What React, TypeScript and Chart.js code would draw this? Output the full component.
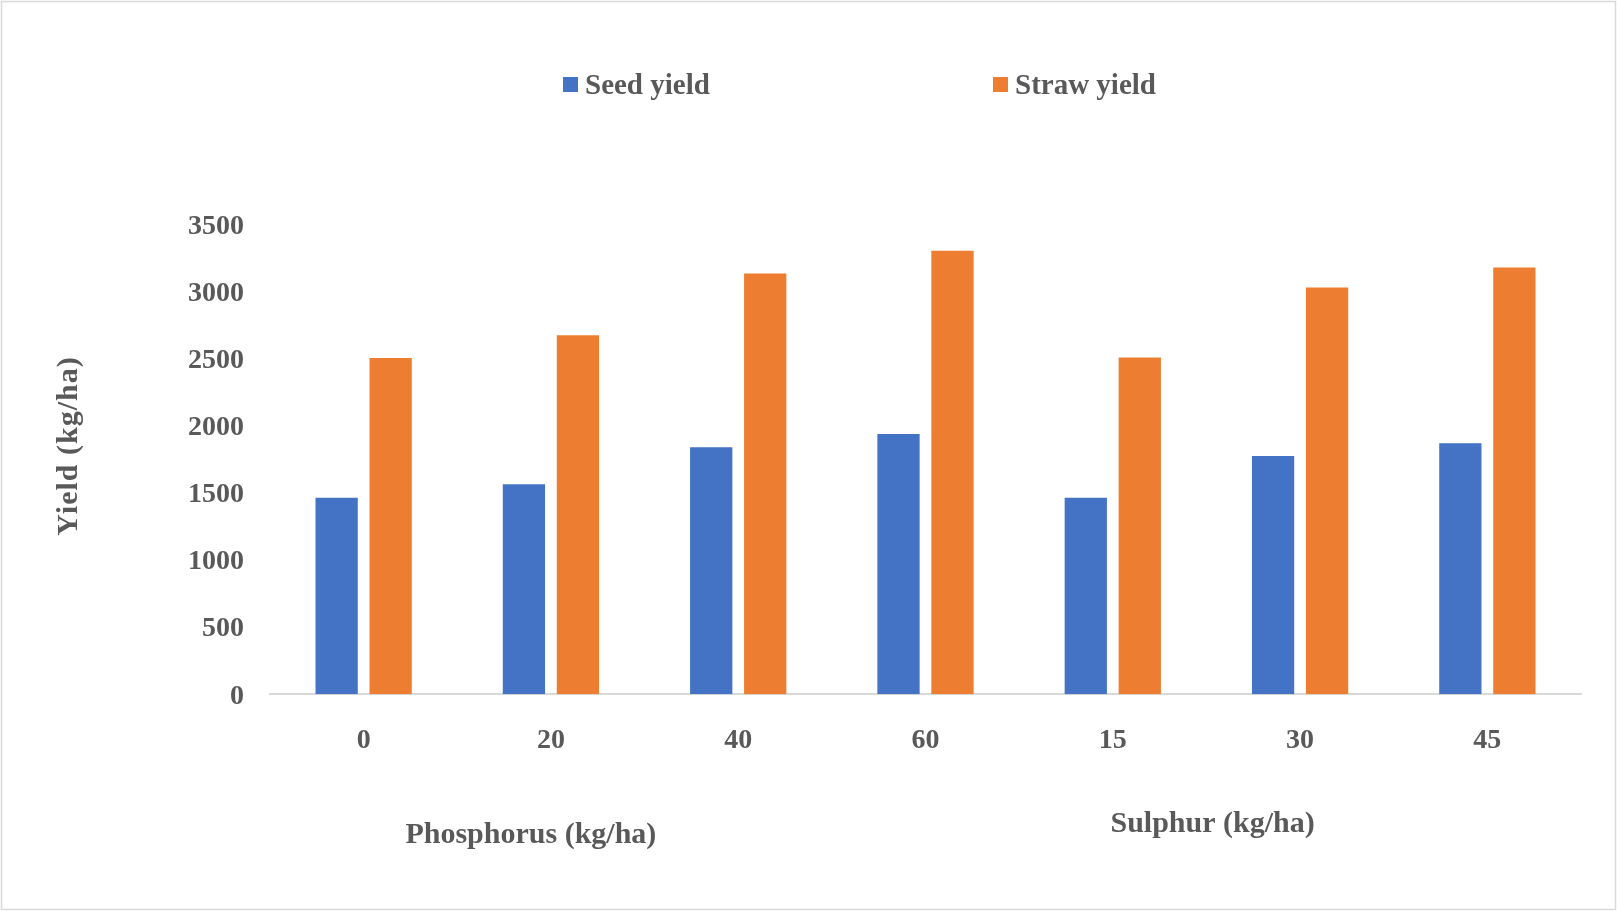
import React, { useEffect, useRef } from 'react';
import { Chart, registerables } from 'chart.js';

Chart.register(...registerables);

const categories = ['0', '20', '40', '60', '15', '30', '45'];
const seedYield = [1465, 1565, 1840, 1940, 1465, 1775, 1870];
const strawYield = [2505, 2675, 3135, 3305, 2510, 3030, 3180];
const seriesNames = ['Seed yield', 'Straw yield'];
const groupTitles = ['Phosphorus (kg/ha)', 'Sulphur (kg/ha)'];
const yAxisTitle = 'Yield (kg/ha)';
const yMin = 0;
const yMax = 3500;
const yStep = 500;

const FONT = '"Liberation Serif", "Times New Roman", serif';
const TEXT = '#595959';
const BLUE = '#4472C4';
const ORANGE = '#ED7D31';
const W = 1617;
const H = 911;

export default function App() {
  const ref = useRef<HTMLCanvasElement | null>(null);

  useEffect(() => {
    const canvas = ref.current;
    if (!canvas) return;

    const decor = {
      id: 'decor',
      afterDraw(chart: any) {
        const ctx = chart.ctx as CanvasRenderingContext2D;
        const area = chart.chartArea;
        ctx.save();
        // outer border
        ctx.strokeStyle = '#D9D9D9';
        ctx.lineWidth = 1.5;
        ctx.strokeRect(1.5, 1.5, chart.width - 3, chart.height - 3);

        // legend
        const legendX = [563, 993];
        ctx.font = `bold 29px ${FONT}`;
        ctx.textBaseline = 'alphabetic';
        ctx.textAlign = 'left';
        chart.data.datasets.forEach((ds: any, i: number) => {
          ctx.fillStyle = ds.backgroundColor;
          ctx.fillRect(legendX[i], 77, 15, 15);
          ctx.fillStyle = TEXT;
          ctx.fillText(ds.label, legendX[i] + 22, 93.5);
        });

        // group titles under the x axis
        ctx.font = `bold 30px ${FONT}`;
        ctx.textAlign = 'center';
        ctx.fillStyle = TEXT;
        const w = area.right - area.left;
        ctx.fillText(groupTitles[0], area.left + w * 0.199, 843);
        ctx.fillText(groupTitles[1], area.left + w * 0.719, 832);

        // y axis title
        ctx.translate(77, 446);
        ctx.rotate(-Math.PI / 2);
        (ctx as any).letterSpacing = '1px';
        ctx.fillText(yAxisTitle, 0, 0);
        ctx.restore();
      },
    };

    const chart = new Chart(canvas, {
      type: 'bar',
      data: {
        labels: categories,
        datasets: [
          {
            label: seriesNames[0],
            data: seedYield,
            backgroundColor: BLUE,
            categoryPercentage: 0.5766,
            barPercentage: 0.783,
          },
          {
            label: seriesNames[1],
            data: strawYield,
            backgroundColor: ORANGE,
            categoryPercentage: 0.5766,
            barPercentage: 0.783,
          },
        ],
      },
      options: {
        responsive: false,
        animation: false,
        layout: { padding: { left: 0, top: 224.5, right: 36, bottom: 0 } },
        plugins: {
          legend: { display: false },
          tooltip: { enabled: false },
          title: { display: false },
        },
        scales: {
          x: {
            grid: { display: false, drawTicks: false },
            border: { display: true, color: '#D9D9D9', width: 2 },
            ticks: {
              color: TEXT,
              font: { family: FONT, size: 28, weight: 'bold' },
              padding: 30,
              maxRotation: 0,
              autoSkip: false,
            },
            afterFit: (scale: any) => {
              scale.height = H - 694.3;
            },
          },
          y: {
            min: yMin,
            max: yMax,
            grid: { display: false, drawTicks: false },
            border: { display: false },
            ticks: {
              stepSize: yStep,
              color: TEXT,
              font: { family: FONT, size: 28, weight: 'bold' },
              padding: 26,
              labelOffset: 2,
              callback: (v: any) => String(v),
            },
            afterFit: (scale: any) => {
              scale.width = 270;
            },
          },
        },
      },
      plugins: [decor],
    });

    return () => chart.destroy();
  }, []);

  return (
    <div style={{ position: 'fixed', left: 0, top: 0, width: W, height: H, background: '#fff' }}>
      <canvas ref={ref} width={W} height={H} style={{ display: 'block', width: W, height: H }} />
    </div>
  );
}
